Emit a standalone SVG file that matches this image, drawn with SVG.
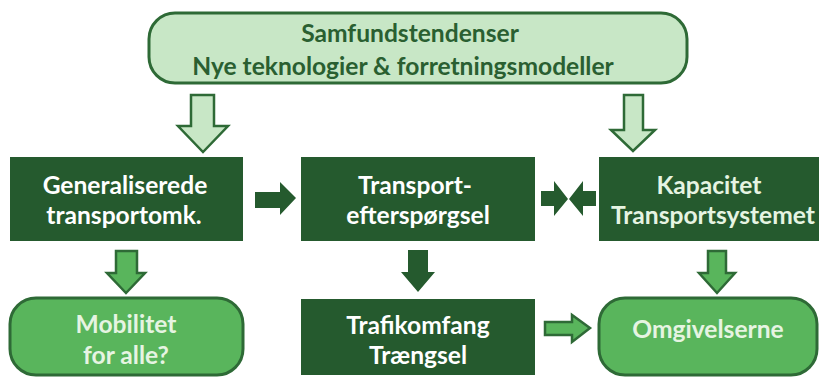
<svg xmlns="http://www.w3.org/2000/svg" width="825" height="378" viewBox="0 0 825 378">
  <defs>
    <style>
      .t { font-family: Lato, "Open Sans", "Liberation Sans", sans-serif; font-weight: bold; font-size: 24.6px; text-anchor: middle; }
      .dark { fill: #255a2e; }
      .light { fill: #c8e7c6; stroke: #2e6a36; stroke-width: 3; }
      .mid { fill: #59b55c; stroke: #2e6a36; stroke-width: 3; }
      .wt { fill: #ffffff; }
      .pt { fill: #e6f4e2; }
      .gt { fill: #2a5f31; }
      .arrDark { fill: #255a2e; }
      .arrLight { fill: #c8e7c6; stroke: #2e6a36; stroke-width: 2.5; stroke-linejoin: miter; }
      .arrMid { fill: #59b55c; stroke: #2e6a36; stroke-width: 2.5; stroke-linejoin: miter; }
    </style>
  </defs>

  <rect width="825" height="378" fill="#ffffff"/>

  <g id="samfund">
    <rect class="light" x="149" y="13" width="538" height="70" rx="26" ry="26"/>
    <text class="t gt" x="410" y="42">Samfundstendenser</text>
    <text class="t gt" x="403" y="75">Nye teknologier &amp; forretningsmodeller</text>
  </g>

  <g id="generaliserede">
    <rect class="dark" x="10" y="157" width="233" height="84"/>
    <text class="t wt" x="125" y="194">Generaliserede</text>
    <text class="t wt" x="124" y="224">transportomk.</text>
  </g>

  <g id="transportefterspoergsel">
    <rect class="dark" x="301" y="157" width="234" height="84"/>
    <text class="t wt" x="415" y="194">Transport-</text>
    <text class="t wt" x="418" y="224">efterspørgsel</text>
  </g>

  <g id="kapacitet">
    <rect class="dark" x="599" y="157" width="220" height="84"/>
    <text class="t pt" x="709" y="194" font-weight="600">Kapacitet</text>
    <text class="t pt" x="713" y="224">Transportsystemet</text>
  </g>

  <g id="mobilitet">
    <rect class="mid" x="10" y="298" width="233" height="77" rx="26" ry="26"/>
    <text class="t pt" x="126" y="333">Mobilitet</text>
    <text class="t pt" x="126" y="364">for alle?</text>
  </g>

  <g id="trafikomfang">
    <rect class="dark" x="301" y="299" width="234" height="76"/>
    <text class="t wt" x="418" y="334">Trafikomfang</text>
    <text class="t wt" x="418" y="364">Trængsel</text>
  </g>

  <g id="omgivelserne">
    <rect class="mid" x="599" y="298" width="218" height="77" rx="26" ry="26"/>
    <text class="t pt" x="708" y="338">Omgivelserne</text>
  </g>

  <g id="connectors">
    <polygon class="arrLight" points="191,95 214,95 214,126 228,126 203,152 178,126 191,126"/>
    <polygon class="arrLight" points="624,95 643,95 643,130 655,130 633,151 611,130 624,130"/>
    <polygon class="arrDark" points="255,192 280,192 280,182 296,198 280,215 280,208 255,208"/>
    <polygon class="arrDark" points="541,191 554,191 554,181 568,199 554,216 554,206 541,206"/>
    <polygon class="arrDark" points="596,191 583,191 583,181 569,199 583,216 583,206 596,206"/>
    <polygon class="arrMid" points="116,251 137,251 137,273 145,273 126,293 107,273 116,273"/>
    <polygon class="arrDark" points="408,250 428,250 428,272 435,272 418,292 401,272 408,272"/>
    <polygon class="arrMid" points="708,251 726,251 726,273 735,273 717,293 699,273 708,273"/>
    <polygon class="arrMid" points="545,322 572,322 572,315 590,328 572,342 572,335 545,335"/>
  </g>
</svg>
